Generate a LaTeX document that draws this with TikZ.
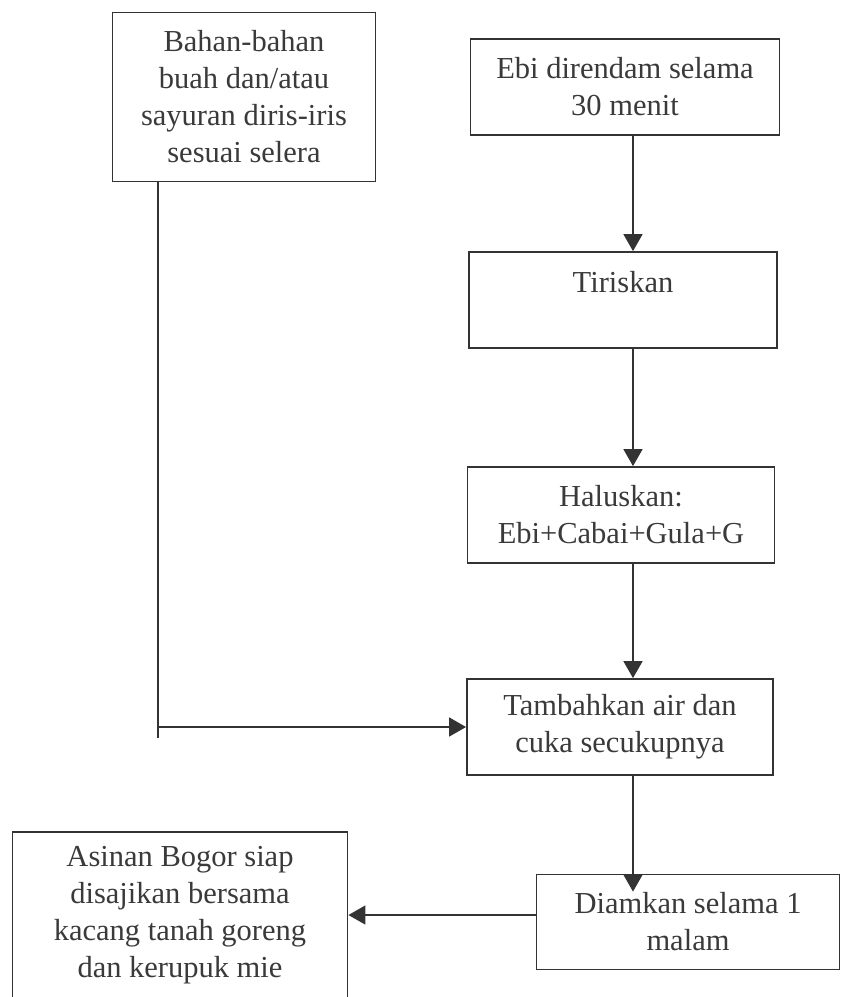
\documentclass[tikz,border=0pt]{standalone}
\usepackage{fontspec}
\setmainfont{Liberation Serif}
\usetikzlibrary{arrows.meta}
\definecolor{inkGray}{HTML}{333333}
\definecolor{txtGray}{HTML}{3A3A3A}

\begin{document}
\begin{tikzpicture}[x=1pt, y=-1pt,
  font=\fontsize{30.5}{37}\selectfont,
  proc/.style={draw=inkGray, line width=1.8pt, text=txtGray, align=center,
               inner sep=0pt, minimum width=307pt, minimum height=96pt},
  flow/.style={color=inkGray, line width=1.6pt, -{Triangle[width=19pt, length=17pt]}}]
  \useasboundingbox (0,0) rectangle (843,997);
  % process boxes
  \node[proc, minimum width=263pt, minimum height=169pt] (bahan) at (244,97)
    {Bahan-bahan\\buah dan/atau\\sayuran diris-iris\\sesuai selera};
  \node[proc, minimum width=309pt] (rendam) at (625,87) {Ebi direndam selama\\30 menit};
  \node[proc, minimum width=308pt] (tiris) at (623,300) {Tiriskan\\ \mbox{}};
  \node[proc] (halus) at (621,515) {Haluskan:\\Ebi+Cabai+Gula+G};
  \node[proc, minimum width=306pt] (tambah) at (620,727) {Tambahkan air dan\\cuka secukupnya};
  \node[proc, minimum width=303pt, minimum height=95pt] (diam) at (688,922)
    {Diamkan selama 1\\malam};
  \node[proc, minimum width=335pt, minimum height=166pt] (sajian) at (180,915)
    {Asinan Bogor siap\\disajikan bersama\\kacang tanah goreng\\dan kerupuk mie};
  % connectors
  \coordinate (col) at (633,0);
  \coordinate (tail) at (158,738);
  \draw[flow] (rendam.south -| col) -- (tiris.north -| col);
  \draw[flow] (tiris.south -| col) -- (halus.north -| col);
  \draw[flow] (halus.south -| col) -- (tambah.north -| col);
  \draw[flow, shorten >=-18pt] (tambah.south -| col) -- (diam.north -| col);
  \draw[inkGray, line width=1.6pt] (bahan.south -| tail) -- (tail);
  \draw[flow] (tail |- tambah.west) -- (tambah.west);
  \draw[flow] (diam.west |- sajian.east) -- (sajian.east);
\end{tikzpicture}
\end{document}
